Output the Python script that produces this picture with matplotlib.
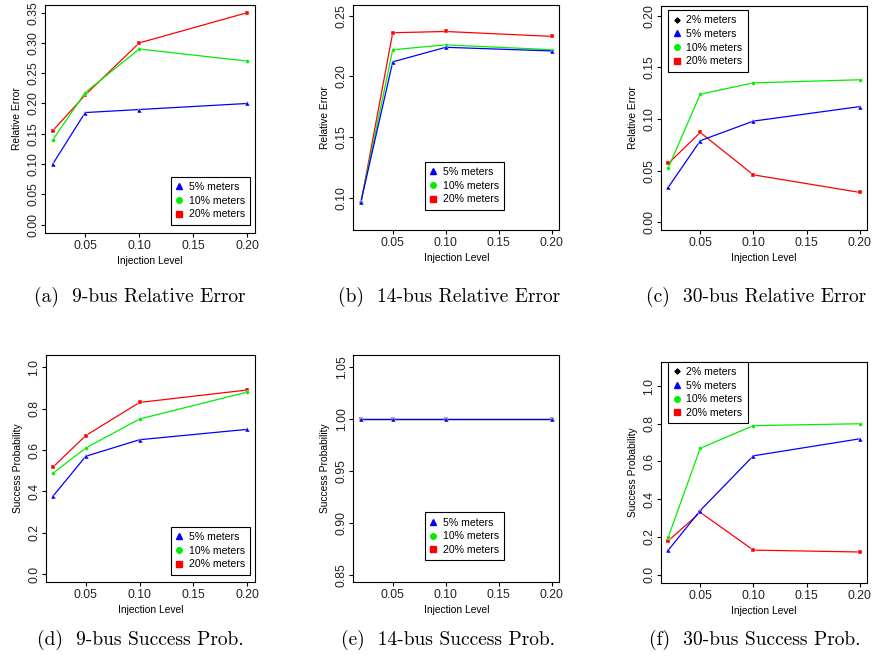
import matplotlib
matplotlib.use("Agg")
import matplotlib.pyplot as plt
from matplotlib.ticker import FormatStrFormatter
from matplotlib.lines import Line2D

plt.rcParams["font.family"] = ["Liberation Sans", "DejaVu Sans"]

inj = [0.02, 0.05, 0.10, 0.20]
labels = ["5% meters", "10% meters", "20% meters"]

# relative error
re9_5 = [0.100, 0.185, 0.190, 0.200]
re9_10 = [0.140, 0.218, 0.290, 0.270]
re9_20 = [0.155, 0.214, 0.300, 0.350]

re14_5 = [0.097, 0.212, 0.224, 0.221]
re14_10 = [0.0965, 0.222, 0.226, 0.222]
re14_20 = [0.096, 0.236, 0.237, 0.233]

re30_5 = [0.034, 0.079, 0.098, 0.112]
re30_10 = [0.053, 0.124, 0.135, 0.138]
re30_20 = [0.057, 0.087, 0.046, 0.029]

# success probability
sp9_5 = [0.38, 0.57, 0.65, 0.70]
sp9_10 = [0.49, 0.61, 0.75, 0.88]
sp9_20 = [0.52, 0.67, 0.83, 0.89]

sp14_5 = [1.0, 1.0, 1.0, 1.0]
sp14_10 = [1.0, 1.0, 1.0, 1.0]
sp14_20 = [1.0, 1.0, 1.0, 1.0]

sp30_5 = [0.13, 0.34, 0.63, 0.72]
sp30_10 = [0.20, 0.67, 0.79, 0.80]
sp30_20 = [0.18, 0.33, 0.13, 0.12]

captions = ["(a)  9-bus Relative Error", "(b)  14-bus Relative Error", "(c)  30-bus Relative Error",
            "(d)  9-bus Success Prob.", "(e)  14-bus Success Prob.", "(f)  30-bus Success Prob."]

W, H = 874, 666
fig = plt.figure(figsize=(W / 100, H / 100), dpi=100)

def px_axes(l, t, r, b):
    return fig.add_axes([l / W, 1 - b / H, (r - l) / W, (b - t) / H])

styles = [("blue", "^", 3.6), ("#00ee00", "o", 2.8), ("red", "s", 3.2)]

def panel(box, series, ylim, yticks, yfmt, ylabel, leg_xy, show2=False):
    ax = px_axes(*box)
    # draw 20% first so 5% ends up on top
    for ys, (c, m, ms) in reversed(list(zip(series, styles))):
        ax.plot(inj, ys, color=c, lw=0.9, marker=m, ms=ms, mec="white", mew=0.3)
    ax.set_xlim(0.0128, 0.2072)
    ax.set_ylim(*ylim)
    ax.set_xticks([0.05, 0.10, 0.15, 0.20])
    ax.xaxis.set_major_formatter(FormatStrFormatter("%.2f"))
    ax.set_yticks(yticks)
    ax.yaxis.set_major_formatter(FormatStrFormatter(yfmt))
    ax.tick_params(direction="out", length=3, width=0.8, labelsize=8.8, pad=2,
                   labelcolor="#222222")
    ax.tick_params(axis="y", pad=1)
    for t in ax.get_yticklabels():
        t.set_rotation(90)
        t.set_va("center")
    for s in ax.spines.values():
        s.set_linewidth(0.8)
    ax.set_xlabel("Injection Level", fontsize=7.4, labelpad=3)
    ax.set_ylabel(ylabel, fontsize=7.4, labelpad=4)

    handles = []
    names = []
    if show2:
        handles.append(Line2D([], [], ls="", marker="D", color="black", ms=2.6))
        names.append("2% meters")
    for (c, m, ms), lab in zip(styles, labels):
        handles.append(Line2D([], [], ls="", marker=m, color=c, ms=ms + 1.2))
        names.append(lab)
    leg = ax.legend(handles, names, loc="upper left",
                    bbox_to_anchor=(leg_xy[0] / W, 1 - leg_xy[1] / H),
                    bbox_transform=fig.transFigure, borderaxespad=0,
                    fontsize=7.6, frameon=True, fancybox=False,
                    edgecolor="black", framealpha=1, handlelength=0.6,
                    handletextpad=0.6, labelspacing=0.35, borderpad=0.5)
    leg.get_frame().set_linewidth(0.8)
    return ax

panel((45, 5, 255, 233), [re9_5, re9_10, re9_20], (-0.014, 0.3627),
      [0, 0.05, 0.10, 0.15, 0.20, 0.25, 0.30, 0.35], "%.2f", "Relative Error", (170.7, 176.7))
panel((353.3, 5, 559.3, 230), [re14_5, re14_10, re14_20], (0.0737, 0.2588),
      [0.10, 0.15, 0.20, 0.25], "%.2f", "Relative Error", (424.7, 161.7))
panel((660.7, 6, 867.3, 230), [re30_5, re30_10, re30_20], (-0.0074, 0.2094),
      [0, 0.05, 0.10, 0.15, 0.20], "%.2f", "Relative Error", (668.3, 10), show2=True)
panel((45.7, 355, 255, 582), [sp9_5, sp9_10, sp9_20], (-0.037, 1.059),
      [0, 0.2, 0.4, 0.6, 0.8, 1.0], "%.1f", "Success Probability", (170.7, 526.7))
panel((353.3, 355, 559.3, 582.3), [sp14_5, sp14_10, sp14_20], (0.8426, 1.0619),
      [0.85, 0.90, 0.95, 1.00, 1.05], "%.2f", "Success Probability", (424.7, 512.3))
panel((660.7, 361.7, 867.3, 583.3), [sp30_5, sp30_10, sp30_20], (-0.046, 1.129),
      [0, 0.2, 0.4, 0.6, 0.8, 1.0], "%.1f", "Success Probability", (668.3, 361.7), show2=True)

cap_x = [140, 449, 756, 140, 448, 755]
cap_y = [297, 297, 297, 640, 640, 640]
for txt, cx, cy in zip(captions, cap_x, cap_y):
    fig.text(cx / W, 1 - cy / H, txt, family=["cmr10", "DejaVu Serif"], fontsize=14,
             ha="center", va="center")

fig.savefig("out.png", dpi=100)
